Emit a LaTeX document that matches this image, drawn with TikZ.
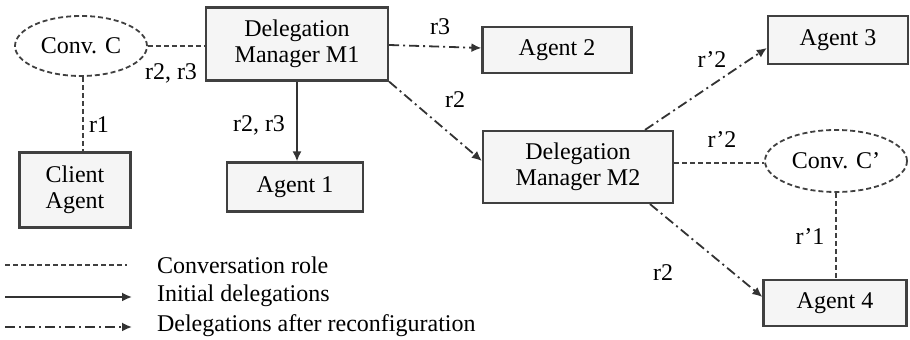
\documentclass[tikz,border=0pt]{standalone}
\usepackage{fontspec}
\setmainfont{Liberation Serif}
\usepackage{tikz}
\usetikzlibrary{arrows.meta,shapes.geometric}

\begin{document}
\begin{tikzpicture}[x=0.5pt,y=-0.5pt,font=\fontsize{12}{13}\selectfont,
	agent/.style={draw=black!75,line width=1.1pt,fill=black!4,align=center,inner sep=2pt},
	conv/.style={ellipse,draw=black!75,line width=0.9pt,dash pattern=on 2.5pt off 1.5pt,inner sep=0pt},
	role/.style={black!75,line width=1pt,dash pattern=on 2.5pt off 1.5pt},
	init/.style={black!80,line width=0.9pt,-{Latex[length=5pt,width=4.5pt]}},
	reconf/.style={black!80,line width=0.9pt,dash pattern=on 5pt off 2pt on 1pt off 2pt,-{Latex[length=5pt,width=4.5pt]}}]
	\useasboundingbox (0,0) rectangle (910,340);

	% conversations
	\node[conv,minimum width=66pt,minimum height=30pt] (convC) at (81,46) {Conv. C};
	\node[conv,minimum width=71pt,minimum height=31pt] (convCp) at (836,161) {Conv. C'};

	% agents and managers
	\node[agent,minimum width=91pt,minimum height=36.5pt] (m1) at (297,44) {Delegation\\Manager M1};
	\node[agent,minimum width=95pt,minimum height=36pt] (m2) at (578,167) {Delegation\\Manager M2};
	\node[agent,minimum width=55.5pt,minimum height=37.5pt] (client) at (75,190) {Client\\Agent};
	\node[agent,minimum width=68pt,minimum height=24.5pt] (agent1) at (295,187) {Agent 1};
	\node[agent,minimum width=74.5pt,minimum height=23pt] (agent2) at (557,50) {Agent 2};
	\node[agent,minimum width=70pt,minimum height=24pt] (agent3) at (838,40) {Agent 3};
	\node[agent,minimum width=71.5pt,minimum height=23pt] (agent4) at (835,303) {Agent 4};

	% conversation roles
	\draw[role] (convC.east) -- (m1.west |- convC.east);
	\draw[role] ([xshift=1pt]convC.south) -- ([xshift=1pt]convC.south |- client.north);
	\draw[role] (m2.east |- 0,163) -- (convCp.west |- 0,163);
	\draw[role] (convCp.south) -- (convCp.south |- agent4.north);

	% delegations
	\draw[init] (m1.south) -- (m1.south |- agent1.north);
	\draw[reconf] (m1.east |- 0,45) -- ([yshift=1pt]agent2.west);
	\draw[reconf] (m1.south east) -- ([yshift=3pt]m2.west);
	\draw[reconf] ([xshift=33.5pt]m2.north) -- ([yshift=-4pt]agent3.west);
	\draw[reconf] ([xshift=36pt]m2.south) -- ([yshift=3pt]agent4.west);

	\node (l1) at (171,73) {r2, r3};
	\node (l2) at (99,125) {r1};
	\node (l3) at (259,125) {r2, r3};
	\node (l4) at (440,27) {r3};
	\node (l5) at (455,100) {r2};
	\node (l6) at (712,60) {r'2};
	\node (l7) at (722,140) {r'2};
	\node (l8) at (810,237) {r'1};
	\node (l9) at (663,273) {r2};

	% legend
	\coordinate (a1) at (5,265);
	\coordinate (b1) at (127,265);
	\coordinate (a2) at (5,297);
	\coordinate (b2) at (132,297);
	\coordinate (a3) at (5,327);
	\coordinate (b3) at (132,327);
	\draw[role,line width=0.8pt] (a1) -- (b1);
	\draw[init] (a2) -- (b2);
	\draw[reconf] (a3) -- (b3);
	\node[anchor=west] (t1) at (150,265) {Conversation role};
	\node[anchor=west] (t2) at (150,296) {Initial delegations};
	\node[anchor=west] (t3) at (150,326) {Delegations after reconfiguration};
\end{tikzpicture}
\end{document}
